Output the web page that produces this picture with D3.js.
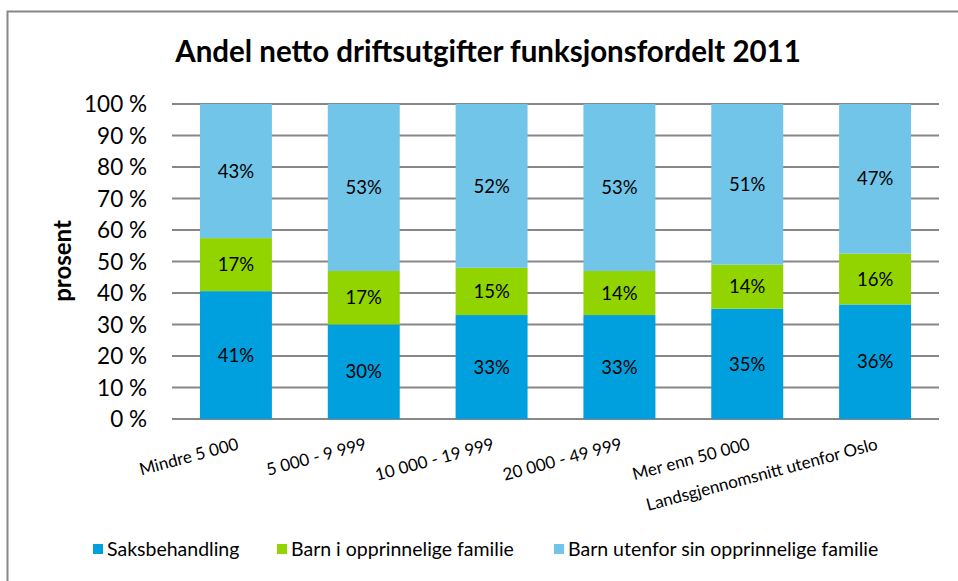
<!DOCTYPE html>
<html>
<head>
<meta charset="utf-8">
<script src="https://cdn.jsdelivr.net/npm/d3@7"></script>
<style>
  body { margin: 0; background: #fff; }
  text { font-family: Lato, "Open Sans", sans-serif; fill: #000; }
</style>
</head>
<body>
<svg id="chart" width="958" height="581"></svg>
<script>
// data
const categories = ["Mindre 5 000", "5 000 - 9 999", "10 000 - 19 999", "20 000 - 49 999", "Mer enn 50 000", "Landsgjennomsnitt utenfor Oslo"];
const seriesNames = ["Saksbehandling", "Barn i opprinnelige familie", "Barn utenfor sin opprinnelige familie"];
const saksbehandling = [41, 30, 33, 33, 35, 36];
const barnIFamilie = [17, 17, 15, 14, 14, 16];
const barnUtenfor = [43, 53, 52, 53, 51, 47];
const yTicks = [0, 10, 20, 30, 40, 50, 60, 70, 80, 90, 100];
const colors = ["#00a0df", "#92d400", "#71c5e8"];

const svg = d3.select("#chart");

// outer frame
svg.append("rect")
    .attr("x", 7.5)
    .attr("y", 11.5)
    .attr("width", 1000)
    .attr("height", 600)
    .attr("fill", "none")
    .attr("stroke", "#878787")
    .attr("stroke-width", 2);

const plot = { left: 172, right: 939, top: 104, bottom: 419 };

const rows = categories.map((c, i) => {
    const total = saksbehandling[i] + barnIFamilie[i] + barnUtenfor[i];
    return {
        cat: c,
        s0: saksbehandling[i] / total * 100,
        s1: barnIFamilie[i] / total * 100,
        s2: barnUtenfor[i] / total * 100,
        raw: [saksbehandling[i], barnIFamilie[i], barnUtenfor[i]]
    };
});

const stack = d3.stack().keys(["s0", "s1", "s2"]);
const series = stack(rows);

const x = d3.scaleBand()
    .domain(categories)
    .range([plot.left, plot.right])
    .paddingInner(0.437)
    .paddingOuter(0.2185);

const y = d3.scaleLinear()
    .domain([0, 100])
    .range([plot.bottom, plot.top]);

// gridlines
svg.append("g")
    .selectAll("line")
    .data(yTicks)
    .enter()
    .append("line")
        .attr("x1", plot.left)
        .attr("x2", plot.right)
        .attr("y1", d => y(d))
        .attr("y2", d => y(d))
        .attr("stroke", "#878787")
        .attr("stroke-width", 2);

// y tick labels
svg.append("g")
    .selectAll("text")
    .data(yTicks)
    .enter()
    .append("text")
        .attr("x", 147)
        .attr("y", d => y(d))
        .attr("dy", "0.36em")
        .attr("text-anchor", "end")
        .style("font-size", "22.5px")
        .text(d => d + " %");

// bars
const layers = svg.append("g")
    .selectAll("g")
    .data(series)
    .enter()
    .append("g")
        .attr("fill", (d, i) => colors[i]);

layers.selectAll("rect")
    .data(d => d)
    .enter()
    .append("rect")
        .attr("x", d => x(d.data.cat))
        .attr("width", x.bandwidth())
        .attr("y", d => y(d[1]))
        .attr("height", d => y(d[0]) - y(d[1]));

// value labels
series.forEach((s, k) => {
    svg.append("g")
        .selectAll("text")
        .data(s)
        .enter()
        .append("text")
            .attr("x", d => x(d.data.cat) + x.bandwidth() / 2)
            .attr("y", d => y((d[0] + d[1]) / 2))
            .attr("dy", "0.36em")
            .attr("text-anchor", "middle")
            .style("font-size", "18.5px")
            .text(d => d.data.raw[k] + "%");
});

// category labels, rotated
svg.append("g")
    .selectAll("text")
    .data(categories)
    .enter()
    .append("text")
        .attr("transform", d => `translate(${x(d) + x.bandwidth() / 2},${436}) rotate(-15)`)
        .attr("dy", "0.8em")
        .attr("text-anchor", "end")
        .style("font-size", "17px")
        .text(d => d);

// title
svg.append("text")
    .attr("x", 488)
    .attr("y", 62)
    .attr("text-anchor", "middle")
    .style("font-size", "29.5px")
    .style("font-weight", "bold")
    .text("Andel netto driftsutgifter funksjonsfordelt 2011");

// y axis title
svg.append("text")
    .attr("transform", "translate(62,261) rotate(-90)")
    .attr("dy", "0.36em")
    .attr("text-anchor", "middle")
    .style("font-size", "24px")
    .style("font-weight", "bold")
    .text("prosent");

// legend
const legendX = [93, 277, 554];
const legend = svg.append("g")
    .selectAll("g")
    .data(seriesNames)
    .enter()
    .append("g")
        .attr("transform", (d, i) => `translate(${legendX[i]},549)`);

legend.append("rect")
    .attr("x", 0)
    .attr("y", -5)
    .attr("width", 10)
    .attr("height", 10)
    .attr("fill", (d, i) => colors[i]);

legend.append("text")
    .attr("x", 14)
    .attr("dy", "0.36em")
    .style("font-size", "19.5px")
    .text(d => d);
</script>
</body>
</html>
